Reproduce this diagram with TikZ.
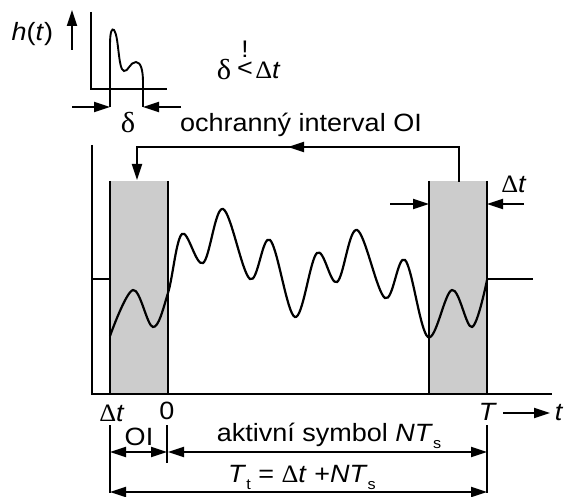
\documentclass[tikz,border=0pt]{standalone}
\usepackage{fontspec}
\setmainfont[FakeStretch=1.08]{Liberation Sans}
\newfontfamily\grk[FakeStretch=1.05]{Liberation Serif}
\usetikzlibrary{arrows.meta}
\begin{document}
\begin{tikzpicture}[x=1pt,y=-1pt,line width=1.9pt,
  tip/.style={-{Triangle[length=16pt,width=10pt]}},
  both/.style={{Triangle[length=16pt,width=10pt]}-{Triangle[length=16pt,width=10pt]}},
  lbl/.style={font=\fontsize{25}{29}\selectfont,inner sep=0pt},
  edge/.style={line width=1.5pt}]
\useasboundingbox (0,0) rectangle (565,497);
% ---------- inset: impulse response ----------
\coordinate (hA) at (72,50); \coordinate (hB) at (72,10);
\draw[tip] (hA) -- (hB);
\node[lbl,anchor=east] (hlab) at (54,34) {\textit{h}(\textit{t})};
\coordinate (iy) at (91,12); \coordinate (io) at (91,89); \coordinate (ix) at (167,89);
\draw (iy) -- (io) -- (ix);
\draw (110,107) -- (110,45) .. controls (110,31) and (112,28) .. (114,30)
  .. controls (119,36) and (118,70) .. (124,71)
  .. controls (128,72) and (130,62) .. (136,62)
  .. controls (141,62) and (143,71) .. (143,82) -- (143,107);
\coordinate (dl0) at (72,107); \coordinate (dl1) at (110,107);
\coordinate (dr0) at (181,107); \coordinate (dr1) at (143,107);
\draw[tip] (dl0) -- (dl1);
\draw[tip] (dr0) -- (dr1);
\node[lbl,font=\fontsize{29}{32}\selectfont] (delta) at (128,123) {\grk δ};
\node[lbl,font=\fontsize{29}{32}\selectfont] (cd) at (224,70) {\grk δ};
\node[lbl,align=center,anchor=south] (lt) at (245,77) {{\fontsize{24}{24}\selectfont !}\\[-10pt]<};
\node[lbl] (cdt) at (268,70) {{\grk Δ}\textit{t}};
% ---------- main diagram ----------
\fill[black!20] (110,181) rectangle (168,394);
\fill[black!20] (429,181) rectangle (487,394);
\draw[edge] (110,181) -- (110,394) (168,181) -- (168,394);
\draw[edge] (429,181) -- (429,394) (487,181) -- (487,394);
\coordinate (O) at (92,394);
\draw (92,145) -- (O) -- (552,394);
% signal
\draw (92,279) -- (110,279);
\draw (487,279) -- (533,279);
\draw[line width=2.2pt] plot[smooth,tension=0.6] coordinates {
 (110,336) (133,290) (153,327) (168,293) (182,234) (203,263) (223,209)
 (250,279) (270,240) (295,317) (317,253) (337,282) (357,230) (385,298)
 (405,260) (428,337) (452,290) (472,327) (487,280)};
% guard interval arrow
\coordinate (gs) at (459,182); \coordinate (gm) at (288,147);
\coordinate (gm2) at (298,147); \coordinate (ge) at (137,180);
\draw[tip] (gs) |- (gm);
\draw[tip] (gm2) -| (ge);
\node[lbl] (oi) at (301,125) {ochranný interval OI};
% delta t at right box
\coordinate (ra0) at (390,204); \coordinate (ra1) at (429,204);
\coordinate (rb0) at (524,204); \coordinate (rb1) at (487,204);
\draw[tip] (ra0) -- (ra1);
\draw[tip] (rb0) -- (rb1);
\node[lbl] (rdt) at (514,184) {{\grk Δ}\textit{t}};
% time axis labels
\node[lbl] (ldt) at (112,413) {{\grk Δ}\textit{t}};
\node[lbl] (l0) at (167,411) {0};
\node[lbl] (lT) at (488,412) {\textit{T}};
\coordinate (ta0) at (503,413); \coordinate (ta1) at (550,413);
\draw[tip] (ta0) -- (ta1);
\node[lbl,anchor=west] (lt2) at (554,413) {\textit{t}};
% dimension lines
\coordinate (k1a) at (110,425); \coordinate (k1b) at (110,493);
\coordinate (k2a) at (167,425); \coordinate (k2b) at (167,463);
\coordinate (k3a) at (487,425); \coordinate (k3b) at (487,493);
\draw[edge] (k1a) -- (k1b);
\draw[edge] (k2a) -- (k2b);
\draw[edge] (k3a) -- (k3b);
\coordinate (d1a) at (110,452); \coordinate (d1b) at (167,452);
\coordinate (d2a) at (168,452); \coordinate (d2b) at (487,452);
\coordinate (d3a) at (110,492); \coordinate (d3b) at (487,492);
\draw[both] (d1a) -- (d1b);
\draw[both] (d2a) -- (d2b);
\draw[both] (d3a) -- (d3b);
\node[lbl] (loi) at (139,437) {OI};
\node[lbl] (lact) at (329,436) {aktivní symbol \textit{NT}\raisebox{-7pt}{\fontsize{15}{15}\selectfont s}};
\node[lbl] (ltt) at (302,477) {\textit{T}\raisebox{-7pt}{\fontsize{15}{15}\selectfont t} = {\grk Δ}\textit{t} +\textit{NT}\raisebox{-7pt}{\fontsize{15}{15}\selectfont s}};
\end{tikzpicture}
\end{document}
